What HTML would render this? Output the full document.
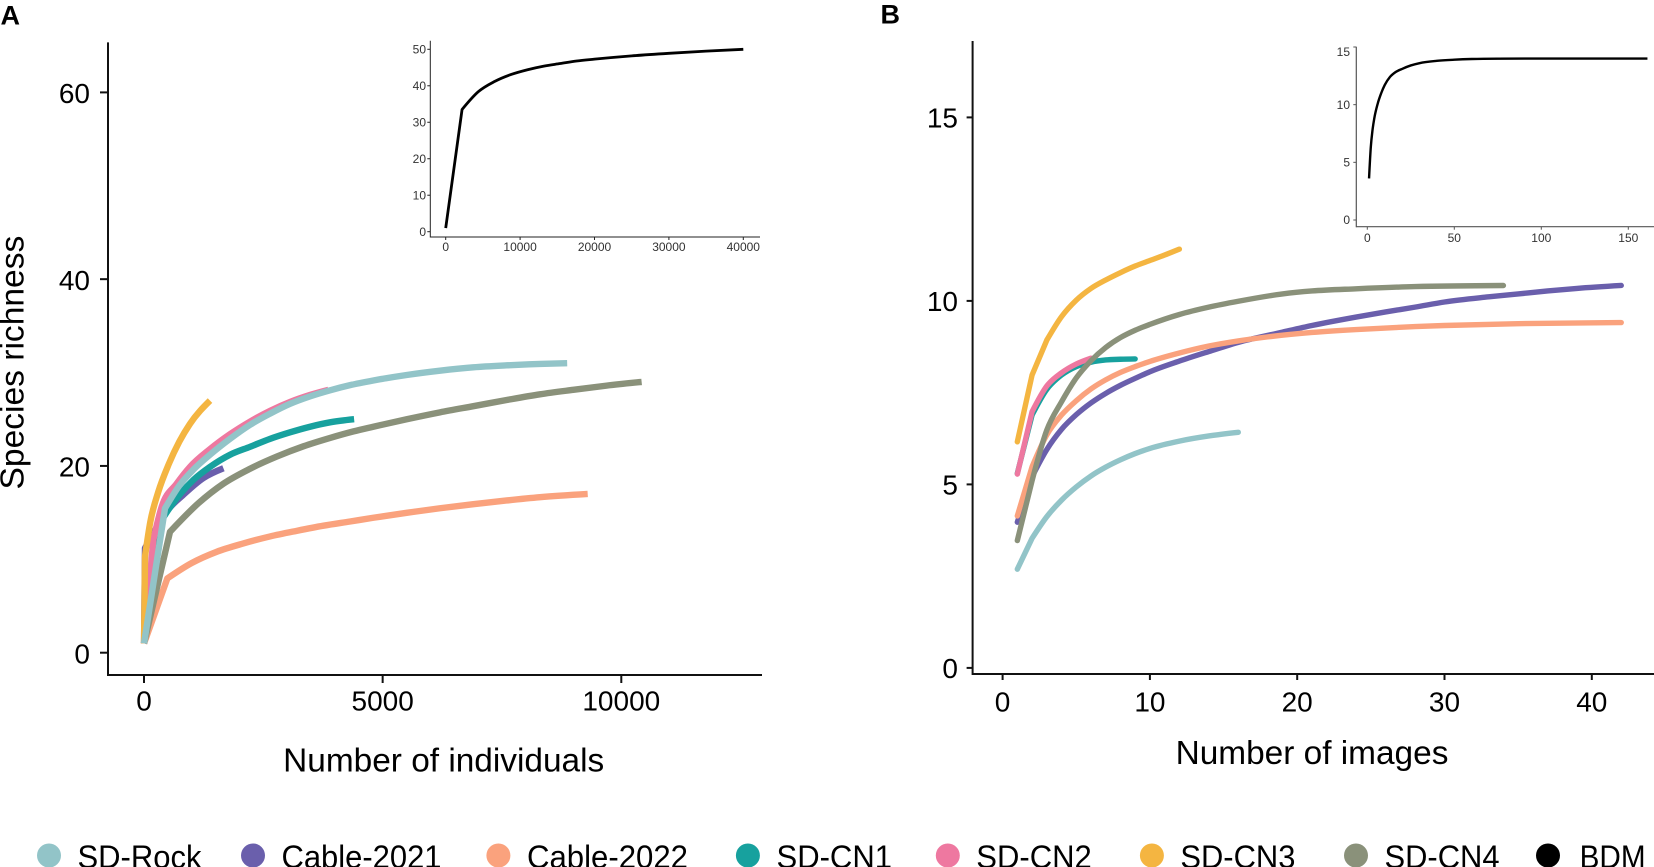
<!DOCTYPE html>
<html lang="en">
<head>
<meta charset="utf-8">
<title>Species richness rarefaction curves</title>
<style>
html,body{margin:0;padding:0;background:#fff;width:1654px;height:867px;overflow:hidden}
svg{display:block;font-family:"Liberation Sans",Arial,sans-serif}
</style>
</head>
<body>
<svg id="figure" xmlns="http://www.w3.org/2000/svg" width="1654" height="867" viewBox="0 0 1654 867">
  <rect x="0" y="0" width="1654" height="867" fill="#fff"/>
  <text x="0.5" y="24.5" font-size="27" font-weight="bold" fill="#000">A</text>
  <text x="880.5" y="23.5" font-size="27" font-weight="bold" fill="#000">B</text>
  <g id="panelA"></g>
  <g id="panelB"></g>
  <g id="insetA"></g>
  <g id="insetB"></g>
  <text transform="translate(23.5,362.6) rotate(-90)" text-anchor="middle" font-size="33.6" fill="#000">Species richness</text>
  <text x="443.7" y="771.7" text-anchor="middle" font-size="33.4" fill="#000">Number of individuals</text>
  <text x="1312" y="764" text-anchor="middle" font-size="33.4" fill="#000">Number of images</text>
  <g font-size="32" fill="#000">
    <g><circle cx="49" cy="855.5" r="12" fill="#92C4C8"/><text x="77.5" y="868" textLength="124" lengthAdjust="spacingAndGlyphs">SD-Rock</text></g>
    <g><circle cx="253" cy="855.5" r="12" fill="#6A5FAC"/><text x="281.5" y="868" textLength="160" lengthAdjust="spacingAndGlyphs">Cable-2021</text></g>
    <g><circle cx="498.4" cy="855.5" r="12" fill="#FAA27D"/><text x="527" y="868" textLength="161" lengthAdjust="spacingAndGlyphs">Cable-2022</text></g>
    <g><circle cx="747.9" cy="855.5" r="12" fill="#17A19E"/><text x="776.5" y="868" textLength="115.5" lengthAdjust="spacingAndGlyphs">SD-CN1</text></g>
    <g><circle cx="947.8" cy="855.5" r="12" fill="#EE78A0"/><text x="976.3" y="868" textLength="115.5" lengthAdjust="spacingAndGlyphs">SD-CN2</text></g>
    <g><circle cx="1151.9" cy="855.5" r="12" fill="#F4B541"/><text x="1180.4" y="868" textLength="115" lengthAdjust="spacingAndGlyphs">SD-CN3</text></g>
    <g><circle cx="1356" cy="855.5" r="12" fill="#8A917A"/><text x="1384.5" y="868" textLength="115" lengthAdjust="spacingAndGlyphs">SD-CN4</text></g>
    <g><circle cx="1548" cy="855.5" r="12" fill="#000"/><text x="1579.6" y="868" textLength="66" lengthAdjust="spacingAndGlyphs">BDM</text></g>
  </g>
</svg>
<script>
// ---- Panel A data: number of individuals vs species richness ----
const aTicksX = [0, 5000, 10000];
const aTicksY = [0, 20, 40, 60];
const aCable2022X = [1, 489, 998, 1520, 2082, 2641, 3200, 3759, 4318, 4804, 5503, 6201, 6900, 7598, 8296, 9296];
const aCable2022Y = [1, 7.96, 9.6, 10.8, 11.7, 12.45, 13.05, 13.6, 14.05, 14.45, 14.98, 15.47, 15.9, 16.3, 16.65, 17.0];
const aCable2021X = [1, 21, 230, 503, 822, 1243, 1664];
const aCable2021Y = [1, 11.2, 13.1, 15.3, 16.9, 18.7, 19.75];
const aCn1X = [1, 230, 510, 1034, 1383, 1803, 2222, 2641, 3060, 3479, 3899, 4402];
const aCn1Y = [1, 13, 15.3, 18.5, 19.9, 21.2, 22.05, 22.9, 23.6, 24.2, 24.67, 25.0];
const aCn4X = [1, 545, 1139, 1664, 2222, 2781, 3340, 3899, 4390, 4804, 5503, 6201, 6900, 7598, 8296, 8995, 9693, 10426];
const aCn4Y = [1, 12.95, 16.0, 18.1, 19.7, 21.0, 22.1, 23.0, 23.7, 24.2, 25.0, 25.74, 26.4, 27.06, 27.67, 28.15, 28.6, 29.0];
const aCn2X = [1, 195, 371, 685, 964, 1383, 1803, 2222, 2641, 3060, 3479, 3864];
const aCn2Y = [1, 12.07, 15.63, 18.1, 19.9, 21.8, 23.4, 24.75, 25.9, 26.85, 27.6, 28.15];
const aCn3X = [1, 21, 132, 298, 519, 740, 962, 1383];
const aCn3Y = [1, 10.3, 14, 17.2, 20.2, 22.6, 24.5, 27];
const aRockX = [1, 440, 755, 1034, 1383, 1803, 2222, 2641, 3060, 3479, 3899, 4318, 4804, 5503, 6201, 6900, 7598, 8296, 8866];
const aRockY = [1, 15.46, 18.0, 19.6, 21.2, 22.9, 24.4, 25.6, 26.65, 27.45, 28.1, 28.65, 29.15, 29.74, 30.2, 30.56, 30.77, 30.92, 31];

// ---- Panel B data: number of images vs species richness ----
const bTicksX = [0, 10, 20, 30, 40];
const bTicksY = [0, 5, 10, 15];
const bRockX = [1, 2, 3, 4, 5, 6, 7, 8, 9, 10, 12, 14, 16];
const bRockY = [2.69, 3.53, 4.12, 4.57, 4.93, 5.23, 5.47, 5.67, 5.84, 5.98, 6.18, 6.32, 6.42];
const bCable2021X = [1, 2, 3, 4, 5, 6, 7, 8, 9, 10, 12, 14, 16, 19, 21, 24, 26, 28, 30, 33, 35, 37, 39, 42];
const bCable2021Y = [3.97, 5.21, 5.95, 6.5, 6.9, 7.22, 7.48, 7.7, 7.89, 8.07, 8.36, 8.62, 8.87, 9.15, 9.33, 9.56, 9.7, 9.83, 9.97, 10.11, 10.19, 10.27, 10.34, 10.42];
const bCable2022X = [1, 2, 3, 4, 5, 6, 7, 8, 9, 10, 12, 14, 16, 18, 21, 24, 26, 28, 30, 35, 42];
const bCable2022Y = [4.14, 5.48, 6.35, 6.89, 7.28, 7.6, 7.85, 8.05, 8.21, 8.35, 8.58, 8.77, 8.91, 9.02, 9.14, 9.22, 9.26, 9.3, 9.33, 9.38, 9.41];
const bCn1X = [1, 2, 3, 4, 5, 6, 7, 8, 9];
const bCn1Y = [5.3, 6.89, 7.59, 7.98, 8.21, 8.33, 8.39, 8.41, 8.42];
const bCn2X = [1, 2, 3, 4, 5, 6];
const bCn2Y = [5.28, 6.98, 7.68, 8.04, 8.28, 8.44];
const bCn3X = [1, 2, 3, 4, 5, 6, 7, 8, 9, 10, 11, 12];
const bCn3Y = [6.16, 7.98, 8.93, 9.57, 10.02, 10.34, 10.57, 10.77, 10.95, 11.1, 11.25, 11.41];
const bCn4X = [1, 2, 3, 4, 5, 6, 7, 8, 9, 10, 12, 14, 16, 19, 21, 24, 28, 34];
const bCn4Y = [3.47, 5.1, 6.48, 7.25, 7.9, 8.37, 8.73, 9.0, 9.2, 9.36, 9.63, 9.83, 9.99, 10.19, 10.27, 10.33, 10.39, 10.42];

// ---- Inset data: BDM curves ----
const iaTicksX = [0, 10000, 20000, 30000, 40000];
const iaTicksY = [0, 10, 20, 30, 40, 50];
const iaBdmX = [1, 2200, 4400, 6600, 8800, 11000, 13200, 15400, 17600, 20000, 25000, 30000, 35000, 40000];
const iaBdmY = [1, 33.5, 38.4, 41.2, 43.1, 44.4, 45.4, 46.1, 46.8, 47.3, 48.2, 48.9, 49.5, 50];
const ibTicksX = [0, 50, 100, 150];
const ibTicksY = [0, 5, 10, 15];
const ibBdmX = [1, 2, 3, 4, 6, 8, 10, 13, 16, 20, 25, 30, 40, 50, 60, 75, 100, 161];
const ibBdmY = [3.6, 6.3, 7.8, 8.8, 10.1, 11.0, 11.7, 12.4, 12.8, 13.1, 13.4, 13.6, 13.8, 13.9, 13.96, 13.99, 14, 14];

const colorRock = '#92C4C8';
const colorCable2021 = '#6A5FAC';
const colorCable2022 = '#FAA27D';
const colorCn1 = '#17A19E';
const colorCn2 = '#EE78A0';
const colorCn3 = '#F4B541';
const colorCn4 = '#8A917A';
const SVGNS = 'http://www.w3.org/2000/svg';

// axis functions
function xA(v) { return 144 + v * (621.3 - 144) / 10000; }
function yA(v) { return 652.7 - v * (652.7 - 92.4) / 60; }
function xB(v) { return 1002.6 + v * (1591.8 - 1002.6) / 40; }
function yB(v) { return 667.9 - v * (667.9 - 117.4) / 15; }
function xIA(v) { return 445.7 + v * (743.3 - 445.7) / 40000; }
function yIA(v) { return 231.7 - v * (231.7 - 49.3) / 50; }
function xIB(v) { return 1367.3 + v * (1628.3 - 1367.3) / 150; }
function yIB(v) { return 220 - v * (220 - 47) / 15; }

function line(parent, name, x1, y1, x2, y2, color, width) {
  const el = document.createElementNS(SVGNS, 'line');
  
  
  el.setAttribute('x1', x1);
  el.setAttribute('y1', y1);
  el.setAttribute('x2', x2);
  el.setAttribute('y2', y2);
  el.setAttribute('stroke', color);
  el.setAttribute('stroke-width', width);
  parent.appendChild(el);
}

function label(parent, name, x, y, anchor, size, color, str) {
  const el = document.createElementNS(SVGNS, 'text');
  
  
  el.setAttribute('x', x);
  el.setAttribute('y', y);
  el.setAttribute('text-anchor', anchor);
  el.setAttribute('font-size', size);
  el.setAttribute('fill', color);
  el.textContent = str;
  parent.appendChild(el);
}

// Straight leading segments, then a monotone cubic through the remaining points.
function smoothPath(px, py, straight) {
  let d = 'M' + px[0].toFixed(2) + ',' + py[0].toFixed(2);
  for (let i = 1; i <= straight; i++) {
    d += 'L' + px[i].toFixed(2) + ',' + py[i].toFixed(2);
  }
  const xs = px.slice(straight);
  const ys = py.slice(straight);
  const n = xs.length;
  if (n < 2) return d;
  const h = [];
  const s = [];
  for (let i = 0; i < n - 1; i++) {
    h.push(xs[i + 1] - xs[i]);
    s.push((ys[i + 1] - ys[i]) / h[i]);
  }
  const m = new Array(n);
  for (let i = 1; i < n - 1; i++) {
    const p = (s[i - 1] * h[i] + s[i] * h[i - 1]) / (h[i - 1] + h[i]);
    m[i] = (Math.sign(s[i - 1]) + Math.sign(s[i])) * Math.min(Math.abs(s[i - 1]), Math.abs(s[i]), 0.5 * Math.abs(p));
  }
  m[0] = n > 2 ? (3 * s[0] - m[1]) / 2 : s[0];
  m[n - 1] = n > 2 ? (3 * s[n - 2] - m[n - 2]) / 2 : s[n - 2];
  for (let i = 0; i < n - 1; i++) {
    const dx = h[i] / 3;
    d += 'C' + (xs[i] + dx).toFixed(2) + ',' + (ys[i] + dx * m[i]).toFixed(2) + ' ' +
      (xs[i + 1] - dx).toFixed(2) + ',' + (ys[i + 1] - dx * m[i + 1]).toFixed(2) + ' ' +
      xs[i + 1].toFixed(2) + ',' + ys[i + 1].toFixed(2);
  }
  return d;
}

function curve(parent, name, xs, ys, fx, fy, color, width, cap, straight) {
  const el = document.createElementNS(SVGNS, 'path');
  
  
  el.setAttribute('d', smoothPath(xs.map(fx), ys.map(fy), straight));
  el.setAttribute('fill', 'none');
  el.setAttribute('stroke', color);
  el.setAttribute('stroke-width', width);
  el.setAttribute('stroke-linecap', cap);
  el.setAttribute('stroke-linejoin', 'round');
  parent.appendChild(el);
}

function axes(parent, o) {
  line(parent, o.prefix + '-y-axis-line', o.left, o.top, o.left, o.bottom + o.axisW / 2, o.axisColor, o.axisW);
  line(parent, o.prefix + '-x-axis-line', o.left, o.bottom, o.right, o.bottom, o.axisColor, o.axisW);
  o.ticksX.forEach(function (t) {
    line(parent, o.prefix + '-x-tick-' + t, o.fx(t), o.bottom, o.fx(t), o.bottom + o.tickLen, o.axisColor, o.tickW);
    label(parent, o.prefix + '-x-tick-label-' + t, o.fx(t), o.xBase, 'middle', o.fontSize, o.textColor, String(t));
  });
  o.ticksY.forEach(function (t) {
    line(parent, o.prefix + '-y-tick-' + t, o.left - o.tickLen, o.fy(t), o.left, o.fy(t), o.axisColor, o.tickW);
    label(parent, o.prefix + '-y-tick-label-' + t, o.yRight, Math.max(o.fy(t) + o.yShift, o.minBase), 'end', o.fontSize, o.textColor, String(t));
  });
}

const pa = document.getElementById('panelA');
axes(pa, { prefix: 'panel-a', left: 108, right: 762, top: 42.4, bottom: 675, fx: xA, fy: yA, ticksX: aTicksX, ticksY: aTicksY, axisColor: '#111', axisW: 2, tickW: 2, tickLen: 8, fontSize: 28, textColor: '#000', xBase: 710.7, yRight: 90, yShift: 10.7, minBase: 0 });
curve(pa, 'panel-a-curve-cable-2022', aCable2022X, aCable2022Y, xA, yA, colorCable2022, 6.4, 'butt', 1);
curve(pa, 'panel-a-curve-cable-2021', aCable2021X, aCable2021Y, xA, yA, colorCable2021, 6.4, 'butt', 1);
curve(pa, 'panel-a-curve-sd-cn1', aCn1X, aCn1Y, xA, yA, colorCn1, 6.4, 'butt', 1);
curve(pa, 'panel-a-curve-sd-cn4', aCn4X, aCn4Y, xA, yA, colorCn4, 6.4, 'butt', 1);
curve(pa, 'panel-a-curve-sd-cn2', aCn2X, aCn2Y, xA, yA, colorCn2, 6.4, 'butt', 1);
curve(pa, 'panel-a-curve-sd-cn3', aCn3X, aCn3Y, xA, yA, colorCn3, 6.4, 'butt', 1);
curve(pa, 'panel-a-curve-sd-rock', aRockX, aRockY, xA, yA, colorRock, 6.4, 'butt', 1);

const pb = document.getElementById('panelB');
axes(pb, { prefix: 'panel-b', left: 972.6, right: 1654, top: 41, bottom: 674, fx: xB, fy: yB, ticksX: bTicksX, ticksY: bTicksY, axisColor: '#111', axisW: 2, tickW: 2, tickLen: 6, fontSize: 28, textColor: '#000', xBase: 711.7, yRight: 958, yShift: 10, minBase: 0 });
curve(pb, 'panel-b-curve-sd-rock', bRockX, bRockY, xB, yB, colorRock, 5.4, 'round', 1);
curve(pb, 'panel-b-curve-cable-2021', bCable2021X, bCable2021Y, xB, yB, colorCable2021, 5.4, 'round', 1);
curve(pb, 'panel-b-curve-cable-2022', bCable2022X, bCable2022Y, xB, yB, colorCable2022, 5.4, 'round', 1);
curve(pb, 'panel-b-curve-sd-cn1', bCn1X, bCn1Y, xB, yB, colorCn1, 5.4, 'round', 1);
curve(pb, 'panel-b-curve-sd-cn2', bCn2X, bCn2Y, xB, yB, colorCn2, 5.4, 'round', 1);
curve(pb, 'panel-b-curve-sd-cn3', bCn3X, bCn3Y, xB, yB, colorCn3, 5.4, 'round', 2);
curve(pb, 'panel-b-curve-sd-cn4', bCn4X, bCn4Y, xB, yB, colorCn4, 5.4, 'round', 1);

const ia = document.getElementById('insetA');
axes(ia, { prefix: 'inset-a', left: 430.3, right: 760, top: 40.7, bottom: 237, fx: xIA, fy: yIA, ticksX: iaTicksX, ticksY: iaTicksY, axisColor: '#222', axisW: 1, tickW: 1, tickLen: 3, fontSize: 12, textColor: '#333', xBase: 251, yRight: 426, yShift: 4.2, minBase: 0 });
curve(ia, 'inset-a-curve-bdm', iaBdmX, iaBdmY, xIA, yIA, '#000', 2.8, 'butt', 1);

const ib = document.getElementById('insetB');
axes(ib, { prefix: 'inset-b', left: 1356.3, right: 1654, top: 46.7, bottom: 226.7, fx: xIB, fy: yIB, ticksX: ibTicksX, ticksY: ibTicksY, axisColor: '#555', axisW: 1.2, tickW: 1, tickLen: 3, fontSize: 12, textColor: '#333', xBase: 242, yRight: 1350, yShift: 4.2, minBase: 56 });
curve(ib, 'inset-b-curve-bdm', ibBdmX, ibBdmY, xIB, yIB, '#000', 2.4, 'butt', 0);
</script>
</body>
</html>
